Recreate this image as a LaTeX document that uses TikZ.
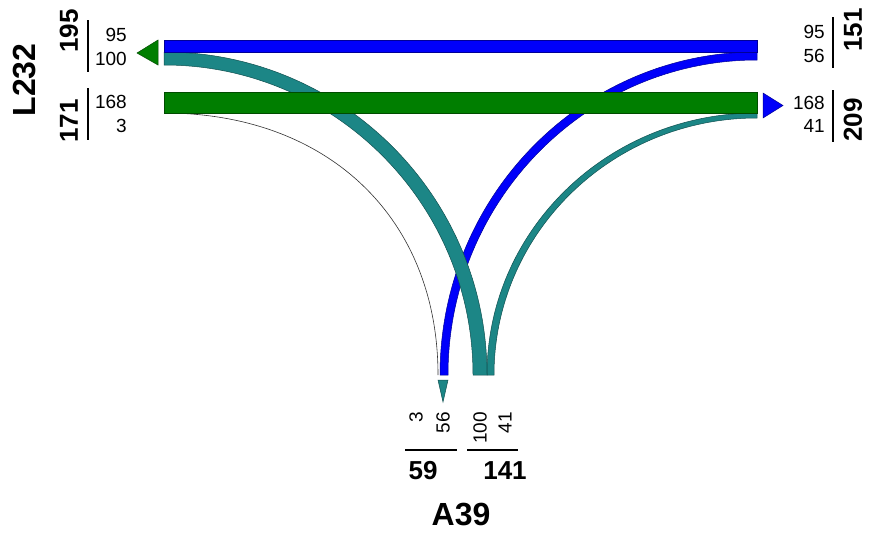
\documentclass[tikz,border=0pt]{standalone}
\usepackage{fontspec}
\setmainfont{Liberation Sans}
\definecolor{fblue}{RGB}{0,0,250}
\definecolor{fgreen}{RGB}{0,126,0}
\definecolor{fteal}{RGB}{28,134,134}
\begin{document}
\begin{tikzpicture}[x=1pt,y=1pt,
  small/.style={font=\fontsize{19}{19}\selectfont, inner sep=0pt},
  total/.style={font=\fontsize{26}{26}\bfseries\selectfont, inner sep=0pt},
  axisname/.style={font=\fontsize{32}{32}\bfseries\selectfont, inner sep=0pt},
  tickline/.style={line width=2.6pt},
  bblue/.style={fill=fblue, draw=fblue!60!black, line width=0.5pt},
  bgreen/.style={fill=fgreen, draw=fgreen!60!black, line width=0.5pt},
  bteal/.style={fill=fteal, draw=fteal!60!black, line width=0.5pt},
  tinyline/.style={draw=black!80, line width=0.6pt}
]
\fill[white] (0,0) rectangle (869,-533);
\useasboundingbox (0,0) rectangle (869,-533);

% curved flows
\path[bblue] (757,-52) arc[start angle=90,end angle=180,x radius=317pt,y radius=323pt]
  -- (448,-375) arc[start angle=180,end angle=90,x radius=309pt,y radius=315pt] -- cycle;
\path[bteal] (757,-113) arc[start angle=90,end angle=180,x radius=270pt,y radius=262pt]
  -- (494,-375) arc[start angle=180,end angle=90,x radius=263pt,y radius=257pt] -- cycle;
\coordinate (blkA) at (164,-113);
\coordinate (blkB) at (438,-375);
\path[tinyline] (blkA) .. controls (328,-113) and (438,-218) .. (blkB);
\path[bteal] (164,-52) arc[start angle=90,end angle=0,x radius=323pt,y radius=323pt]
  -- (473,-375) arc[start angle=0,end angle=90,x radius=309pt,y radius=310pt] -- cycle;

% straight flows
\path[bblue] (164,-40) rectangle (757,-52);
\path[bgreen] (164,-92) rectangle (757,-113);

% arrowheads
\path[bgreen] (158,-40) -- (137,-53) -- (158,-65) -- cycle;
\path[bblue] (763,-93) -- (783,-105.5) -- (763,-118) -- cycle;
\path[bteal] (438,-380) -- (448,-380) -- (443,-402) -- cycle;

% left axis labels
\node[axisname, rotate=90] (lname) at (25,-80) {L232};
\node[total, rotate=90] (ltop) at (69,-31) {195};
\node[total, rotate=90] (lbot) at (69,-121) {171};
\coordinate (lt1) at (88,-20); \coordinate (lt2) at (88,-72);
\coordinate (lb1) at (88,-88); \coordinate (lb2) at (88,-140);
\draw[tickline] (lt1) -- (lt2);
\draw[tickline] (lb1) -- (lb2);
\node[small, anchor=east] (l95) at (127,-35) {95};
\node[small, anchor=east] (l100) at (127,-59) {100};
\node[small, anchor=east] (l168) at (127,-102) {168};
\node[small, anchor=east] (l3) at (127,-126) {3};

% right axis labels
\node[total, rotate=90] (rtop) at (853,-30) {151};
\node[total, rotate=90] (rbot) at (853,-120) {209};
\coordinate (rt1) at (833,-17); \coordinate (rt2) at (833,-68);
\coordinate (rb1) at (833,-90); \coordinate (rb2) at (833,-142);
\draw[tickline] (rt1) -- (rt2);
\draw[tickline] (rb1) -- (rb2);
\node[small, anchor=east] (r95) at (825,-32) {95};
\node[small, anchor=east] (r56) at (825,-56) {56};
\node[small, anchor=east] (r168) at (825,-103) {168};
\node[small, anchor=east] (r41) at (825,-126) {41};

% bottom axis labels
\node[small, rotate=90, anchor=east] (b3) at (416,-412) {3};
\node[small, rotate=90, anchor=east] (b56) at (443,-412) {56};
\node[small, rotate=90, anchor=east] (b100) at (480,-412) {100};
\node[small, rotate=90, anchor=east] (b41) at (505,-412) {41};
\coordinate (bl1) at (405,-450); \coordinate (bl2) at (457,-450);
\coordinate (br1) at (467,-450); \coordinate (br2) at (518,-450);
\draw[tickline] (bl1) -- (bl2);
\draw[tickline] (br1) -- (br2);
\node[total] (bleft) at (423,-471) {59};
\node[total] (bright) at (505,-471) {141};
\node[axisname] (bname) at (461,-514) {A39};
\end{tikzpicture}
\end{document}
